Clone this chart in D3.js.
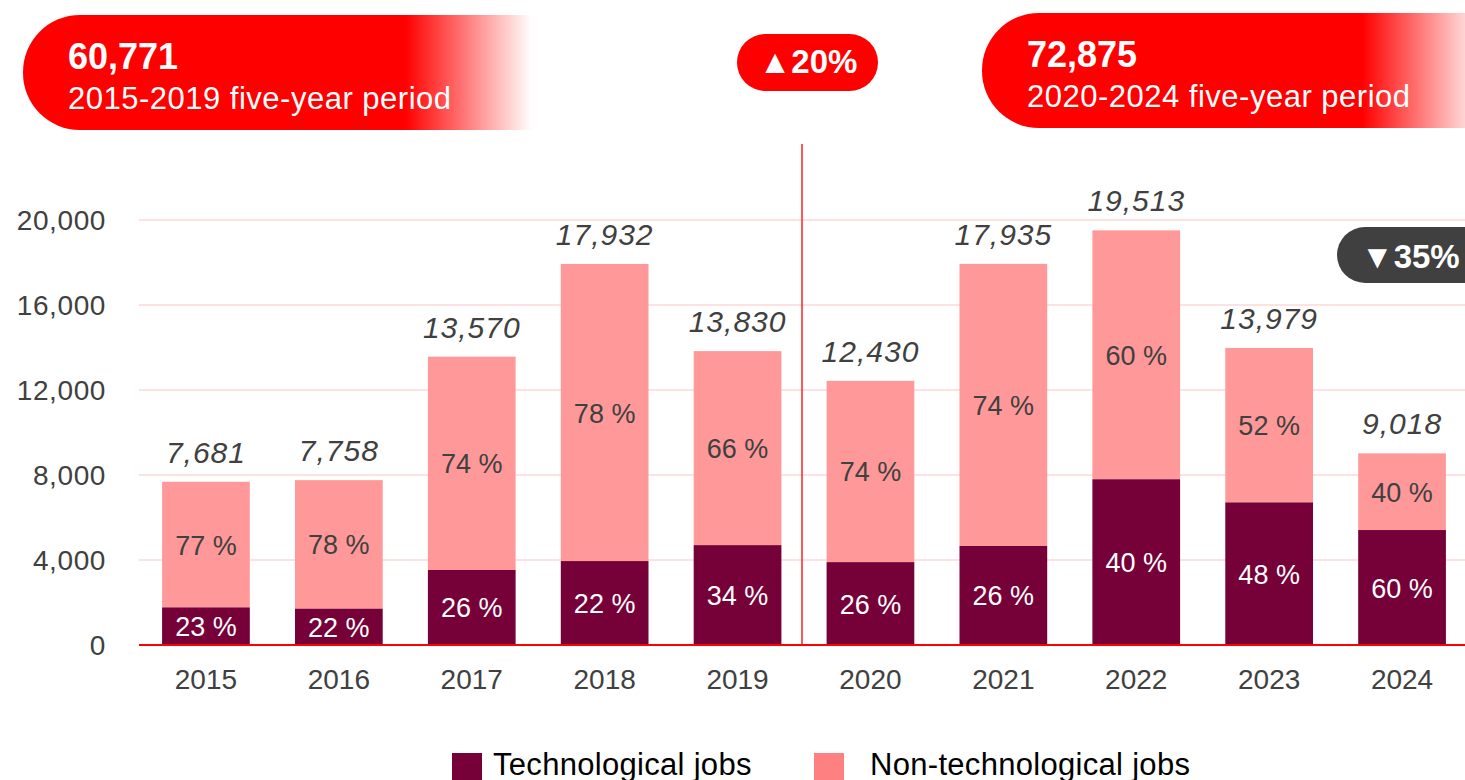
<html>
  <head>
    <meta charset="utf-8">
    <title>jobs chart</title>
    <script src="https://cdn.jsdelivr.net/npm/d3@7/dist/d3.min.js" charset="utf-8"></script>
    <style>
body { margin: 0; background: #fff; }
text { font-family: "Liberation Sans", Arial, sans-serif; }
.grid { stroke: #fde2e2; stroke-width: 2px; }
.base { stroke: #ff0000; stroke-width: 2px; }
    </style>
  </head>
  <body>
    <script>

// data
var years = ["2015","2016","2017","2018","2019","2020","2021","2022","2023","2024"];
var totals = [7681, 7758, 13570, 17932, 13830, 12430, 17935, 19513, 13979, 9018];
var techJobs = [1770, 1710, 3530, 3950, 4700, 3900, 4660, 7800, 6710, 5410];
var techPct = [23, 22, 26, 22, 34, 26, 26, 40, 48, 60];
var nonTechPct = [77, 78, 74, 78, 66, 74, 74, 60, 52, 40];
var yTicks = [0, 4000, 8000, 12000, 16000, 20000];
var periodTotals = ["60,771", "72,875"];
var periodLabels = ["2015-2019 five-year period", "2020-2024 five-year period"];
var changes = ["\u25B220%", "\u25BC35%"];
var legendLabels = ["Technological jobs", "Non-technological jobs"];

var width = 1465,
    height = 780;

var darkCol = "#760038", lightCol = "#ff9999", txtCol = "#404040";

var svg = d3.select("body").append("svg")
    .attr("width", width)
    .attr("height", height);

var x = d3.scaleBand().domain(years).range([139.5, 1468.5])
    .paddingInner(0.34).paddingOuter(0.17);
var y = d3.scaleLinear().domain([0, 20000]).range([645, 220]);

var rows = years.map(function(yr, i) {
  return {year: yr, total: totals[i], tech: techJobs[i], tp: techPct[i], np: nonTechPct[i]};
});

// header boxes
var defs = svg.append("defs");
function fade(id, x1, x2) {
  var g = defs.append("linearGradient").attr("id", id)
      .attr("gradientUnits", "userSpaceOnUse")
      .attr("x1", x1).attr("x2", x2).attr("y1", 0).attr("y2", 0);
  g.append("stop").attr("offset", 0).attr("stop-color", "#ff0000");
  g.append("stop").attr("offset", 1).attr("stop-color", "#ff0000").attr("stop-opacity", 0);
}
fade("fadeL", 405, 532);
fade("fadeR", 1362, 1485);

var boxes = [{x: 23, y: 15, id: "fadeL", tx: 68, b1: 69, b2: 109},
             {x: 982, y: 13, id: "fadeR", tx: 1027, b1: 67, b2: 107}];
boxes.forEach(function(b, i) {
  svg.append("rect").attr("x", b.x).attr("y", b.y).attr("width", 560).attr("height", 115)
      .attr("rx", 57).attr("fill", "url(#" + b.id + ")");
  svg.append("text").attr("x", b.tx).attr("y", b.b1).attr("fill", "#fff")
      .attr("font-size", 36).attr("font-weight", "bold").text(periodTotals[i]);
  svg.append("text").attr("x", b.tx).attr("y", b.b2).attr("fill", "#fff")
      .attr("font-size", 31).attr("letter-spacing", 0.5).text(periodLabels[i]);
});

// change badges
svg.append("rect").attr("x", 737).attr("y", 34).attr("width", 141).attr("height", 57)
    .attr("rx", 28.5).attr("fill", "#ff0000");
svg.append("text").attr("x", 808).attr("y", 73).attr("text-anchor", "middle")
    .attr("fill", "#fff").attr("font-size", 33).attr("font-weight", "bold").text(changes[0]);
svg.append("rect").attr("x", 1337).attr("y", 227).attr("width", 160).attr("height", 56)
    .attr("rx", 28).attr("fill", "#404040");
svg.append("text").attr("x", 1361).attr("y", 268)
    .attr("fill", "#fff").attr("font-size", 33).attr("font-weight", "bold").text(changes[1]);

// grid + y labels
svg.selectAll(".grid").data(yTicks.slice(1)).enter().append("line").attr("class", "grid")
    .attr("x1", 139).attr("x2", width).attr("y1", y).attr("y2", y);
svg.selectAll(".ylab").data(yTicks).enter().append("text").attr("class", "ylab")
    .attr("x", 106).attr("y", function(d) { return y(d) + 10; })
    .attr("text-anchor", "end").attr("fill", txtCol).attr("font-size", 28)
    .attr("letter-spacing", 0.6)
    .text(d3.format(","));

// period divider
svg.append("line").attr("x1", 802).attr("x2", 802).attr("y1", 144).attr("y2", y(0))
    .attr("stroke", "#ff2020").attr("stroke-width", 1.5);

// bars
var g = svg.selectAll(".bar").data(rows).enter().append("g").attr("class", "bar")
    .attr("transform", function(d) { return "translate(" + x(d.year) + ",0)"; });
var bw = x.bandwidth();

g.append("rect").attr("width", bw).attr("fill", lightCol)
    .attr("y", function(d) { return y(d.total); })
    .attr("height", function(d) { return y(d.tech) - y(d.total); });
g.append("rect").attr("width", bw).attr("fill", darkCol)
    .attr("y", function(d) { return y(d.tech); })
    .attr("height", function(d) { return y(0) - y(d.tech); });

g.append("text").attr("x", bw / 2).attr("text-anchor", "middle")
    .attr("y", function(d) { return (y(d.total) + y(d.tech)) / 2 + 10; })
    .attr("fill", txtCol).attr("font-size", 27)
    .text(function(d) { return d.np + " %"; });
g.append("text").attr("x", bw / 2).attr("text-anchor", "middle")
    .attr("y", function(d) { return (y(d.tech) + y(0)) / 2 + 10; })
    .attr("fill", "#fff").attr("font-size", 27)
    .text(function(d) { return d.tp + " %"; });
g.append("text").attr("x", bw / 2).attr("text-anchor", "middle")
    .attr("y", function(d) { return y(d.total) - 19; })
    .attr("fill", txtCol).attr("font-size", 30).attr("font-style", "italic")
    .attr("letter-spacing", 1)
    .text(function(d) { return d3.format(",")(d.total); });

// baseline + x labels
svg.append("line").attr("class", "base").attr("x1", 139).attr("x2", width)
    .attr("y1", y(0)).attr("y2", y(0));
svg.selectAll(".xlab").data(years).enter().append("text").attr("class", "xlab")
    .attr("x", function(d) { return x(d) + bw / 2; }).attr("y", 689)
    .attr("text-anchor", "middle").attr("fill", txtCol).attr("font-size", 28)
    .text(function(d) { return d; });

// legend
var leg = [{x: 452, c: darkCol, tx: 493}, {x: 814, c: "#ff8080", tx: 870}];
leg.forEach(function(l, i) {
  svg.append("rect").attr("x", l.x).attr("y", 753).attr("width", 30).attr("height", 30).attr("fill", l.c);
  svg.append("text").attr("x", l.tx).attr("y", 775).attr("fill", "#000")
      .attr("font-size", 31).attr("letter-spacing", 0.3).text(legendLabels[i]);
});

</script>
  </body>
</html>
